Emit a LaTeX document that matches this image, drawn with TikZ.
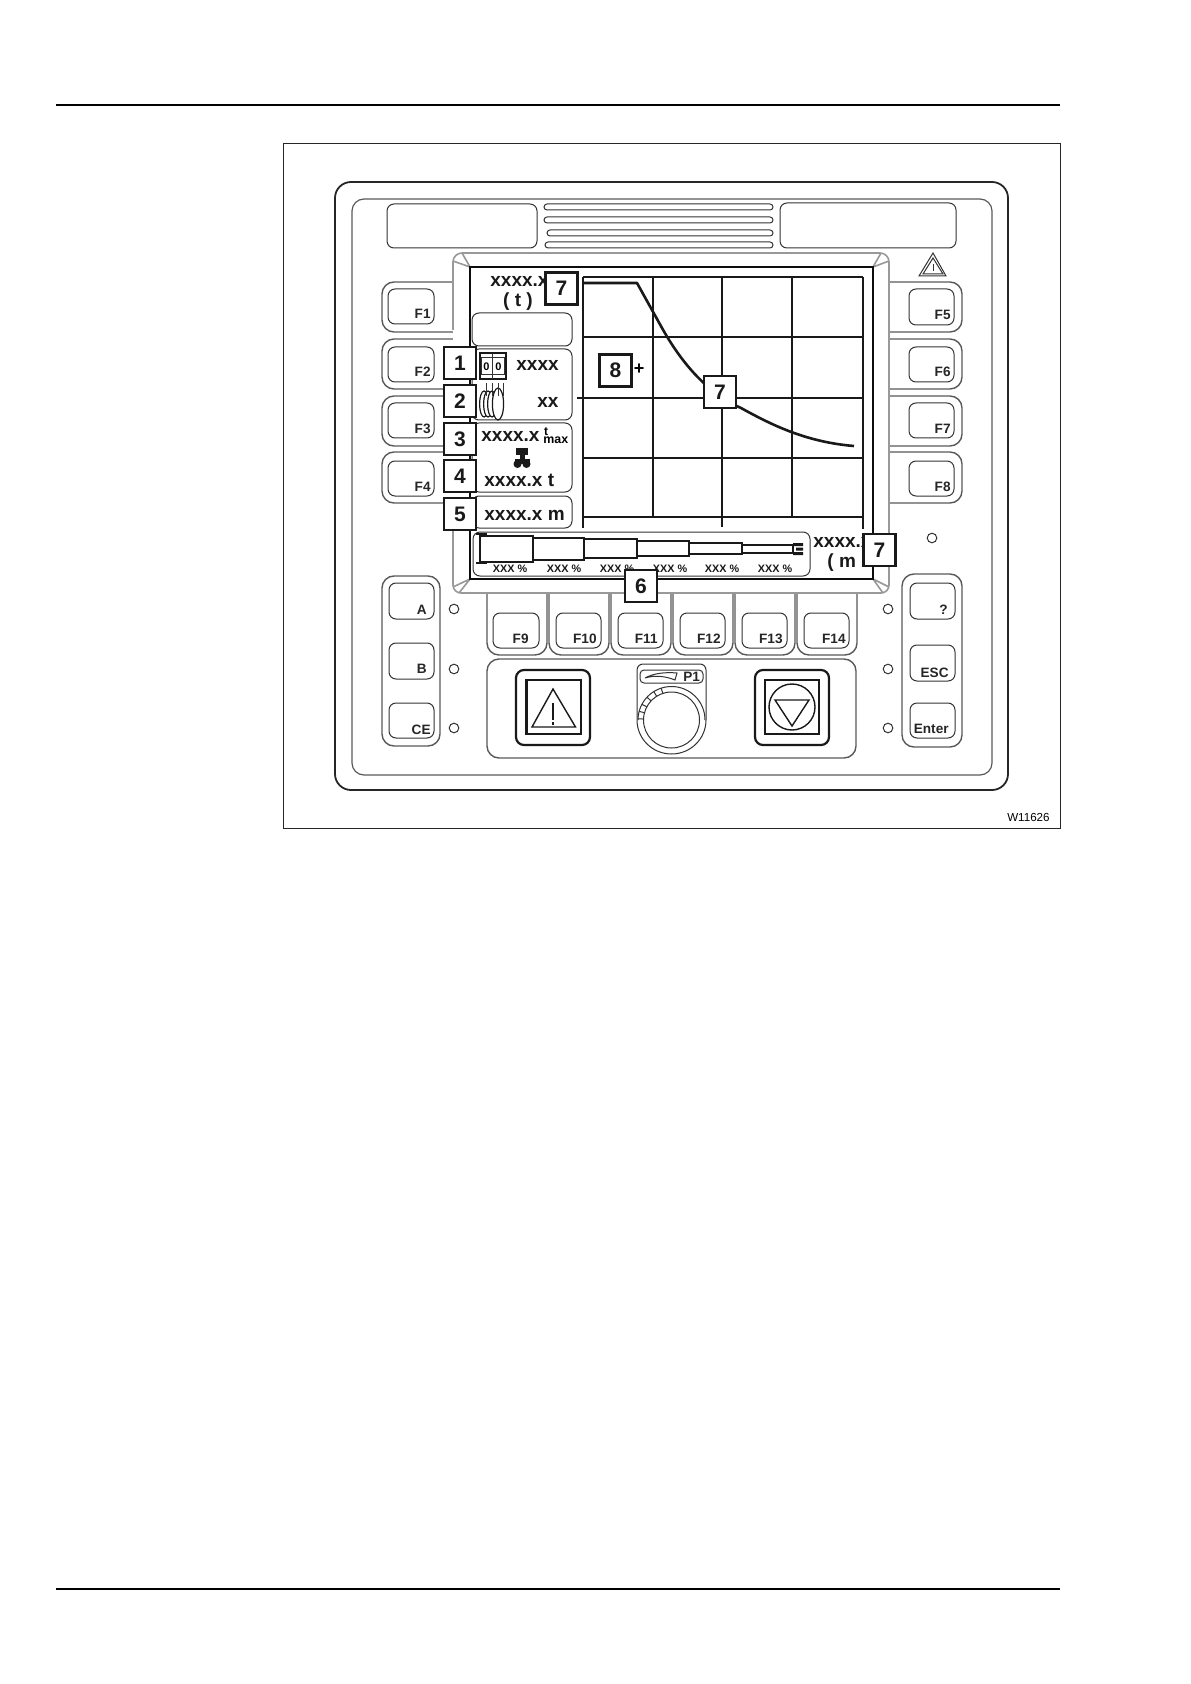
\documentclass[tikz,border=0pt]{standalone}
\usepackage{fontspec}
\setmainfont{Liberation Sans}
\begin{document}
\begin{tikzpicture}[x=0.5pt,y=-0.5pt,
  thin line/.style={draw=black!80,line width=0.5pt},
  rnd/.style={thin line,rounded corners=3.5pt},
  keybtn/.style={thin line,fill=white,rounded corners=3.5pt},
  keygroup/.style={draw=black!65,line width=0.7pt,fill=white,rounded corners=6pt},
  slot/.style={thin line,rounded corners=1.5pt},
  bezel/.style={draw=black!40,line width=0.8pt},
  gridline/.style={draw=black!90,line width=0.9pt},
  heavy/.style={draw=black!90,line width=1.2pt},
  led/.style={thin line,fill=white},
  keylab/.style={font=\bfseries\fontsize{6.8}{8}\selectfont,inner sep=0pt,text=black!85},
  disp/.style={font=\bfseries\fontsize{9.5}{11}\selectfont,inner sep=0pt,text=black!90,anchor=base west},
  pct/.style={font=\bfseries\fontsize{5.4}{6}\selectfont,inner sep=0pt,text=black!90,anchor=base},
  numbox/.style={draw=black!90,line width=1.2pt,fill=white,minimum size=16pt,inner sep=0pt,font=\bfseries\fontsize{10.5}{12}\selectfont,text=black!90,outer sep=0pt},
]
\useasboundingbox (0,0) rectangle (1190,1684);
% page rules and frame
\draw[line width=0.6pt] (56,105) -- (1060,105);
\draw[line width=0.6pt] (56,1589) -- (1060,1589);
\draw[line width=0.45pt,draw=black!85] (283,143) rectangle (1060,828);
\node[anchor=base east,inner sep=0pt,font=\fontsize{5.8}{7}\selectfont] (code) at (1050,821) {W11626};
% housing
\draw[draw=black!85,line width=0.9pt,rounded corners=8pt] (335,182) rectangle (1008,790);
\draw[draw=black!65,line width=0.6pt,rounded corners=6pt] (352,199) rectangle (992,775);
% windows, slots
\draw[rnd] (387,204) rectangle (537,248);
\draw[rnd] (780,203) rectangle (956,248);
\draw[slot] (544,204) rectangle (773,210);
\draw[slot] (544,217) rectangle (773,223);
\draw[slot] (547,230) rectangle (773,236);
\draw[slot] (545,242) rectangle (773,248);
% warning triangle top right
\draw[thin line,line join=miter] (933,253) -- (919,276) -- (946,276) -- cycle;
\draw[thin line,line join=miter] (933,258) -- (923,274) -- (943,274) -- cycle;
\draw[thin line] (933,264) -- (933,271);
% F1-F8 key groups
\foreach \t/\b in {282/332,339/389,396/446,452/503}{
  \draw[keygroup] (470,\t) -- (382,\t) -- (382,\b) -- (470,\b);
  \draw[keygroup] (870,\t) -- (962,\t) -- (962,\b) -- (870,\b);
}
\foreach \t/\b/\n/\by in {289/324/F1/319,347/382/F2/377,403/438/F3/434,461/496/F4/491}{
  \draw[keybtn] (388,\t) rectangle (434,\b);
  \node[keylab,anchor=base east] at (431,\by) {\n};
}
\foreach \t/\b/\n/\by in {289/325/F5/320,347/382/F6/377,403/438/F7/434,461/496/F8/491}{
  \draw[keybtn] (909,\t) rectangle (954,\b);
  \node[keylab,anchor=base east] at (951,\by) {\n};
}
% F9-F14
\foreach \l/\r in {487/547,549/609,611/671,673/733,735/795,797/857}{
  \draw[keygroup] (\l,585) -- (\l,655) -- (\r,655) -- (\r,585);
}
\foreach \l/\r/\tr/\n in {493/539/529/F9,556/601/597/F10,618/663/658/F11,680/725/721/F12,742/787/783/F13,804/849/846/F14}{
  \draw[keybtn] (\l,613) rectangle (\r,648);
  \node[keylab,anchor=base east] at (\tr,643) {\n};
}
% left, right key groups
\draw[keygroup] (382,576) rectangle (440,746);
\draw[keygroup] (902,574) rectangle (962,747);
\foreach \t/\b/\n/\tr/\by in {583/619/A/427/614,643/679/B/427/673,703/738/CE/431/734}{
  \draw[keybtn] (389,\t) rectangle (434,\b);
  \node[keylab,anchor=base east] at (\tr,\by) {\n};
}
\foreach \t/\b/\n/\tr/\by in {583/619/?/948/614,645/681/ESC/949/677,703/738/Enter/949/733}{
  \draw[keybtn] (910,\t) rectangle (955,\b);
  \node[keylab,anchor=base east] at (\tr,\by) {\n};
}
\foreach \x/\y in {454/609,454/669,454/728,888/609,888/669,888/728,932/538}{
  \draw[led] (\x,\y) circle (2.4pt);
}
% lower control panel
\draw[keygroup] (487,659) rectangle (856,758);
\draw[draw=black!90,line width=1.1pt,rounded corners=4pt] (516,670) rectangle (590,745);
\draw[draw=black!90,line width=1.1pt] (526.5,680) rectangle (581,734);
\draw[draw=black!90,line width=0.7pt,line join=miter] (553,689) -- (532,727) -- (575.5,727) -- cycle;
\draw[draw=black!90,line width=0.9pt] (553,703) -- (553,720);
\fill[black!90] (551.8,722) rectangle (554.2,725);
\draw[draw=black!90,line width=1.1pt,rounded corners=4pt] (755,670) rectangle (829,745);
\draw[draw=black!90,line width=1.1pt] (765,680) rectangle (819,734);
\draw[draw=black!90,line width=0.7pt] (792,707) circle (11.5pt);
\draw[draw=black!90,line width=0.7pt,line join=miter] (775,700) -- (809,700) -- (792,726) -- cycle;
% knob
\draw[thin line] (637,720) -- (637,670) arc[start angle=180,end angle=90,radius=3pt] -- (700,664) arc[start angle=90,end angle=0,radius=3pt] -- (706,720) arc[start angle=0,end angle=-180,x radius=17.25pt,y radius=17pt];
\draw[thin line,rounded corners=2pt] (640,670) rectangle (703,683);
\draw[thin line] (645,678) .. controls (654,673) and (666,672) .. (677,673) -- (675,680) .. controls (665,676) and (655,675) .. (645,678);
\node[keylab,anchor=base west] (pone) at (683,681) {P1};
\draw[thin line] (671.5,720) circle (14pt);
\draw[thin line] (638,720) arc[start angle=180,end angle=0,radius=16.75pt];
\foreach \a in {108,122,137,152,165,178}{
  \draw[thin line] (671.5,720) ++(\a:14pt) -- ++(\a:2.7pt);
}
% bezel
\path[fill=white] (453,260) -- (462,253) -- (882,253) -- (889,260) -- (889,586) -- (882,593) -- (460,593) -- (453,586) -- cycle;
\draw[bezel] (453,330) -- (453,262) .. controls (453,257) and (457,253) .. (462,253) -- (880,253) .. controls (885,253) and (889,257) .. (889,262) -- (889,585) .. controls (889,590) and (885,593) .. (881,593) -- (461,593) .. controls (457,593) and (453,590) .. (453,585) -- (453,530);
\draw[bezel] (453,261) -- (470,267) -- (462,253);
\draw[bezel] (889,261) -- (873,267) -- (881,253);
\draw[bezel] (453,587) -- (470,579) -- (459,593);
\draw[bezel] (889,587) -- (873,579) -- (883,593);
\draw[draw=black!95,line width=1.1pt,fill=white] (470,267) rectangle (873,579);
% display grid
\draw[heavy] (583,277) -- (863,277);
\draw[heavy] (583,277) -- (583,528);
\draw[heavy] (863,277) -- (863,529);
\draw[heavy] (583,517) -- (863,517);
\foreach \x in {653,792}{\draw[gridline] (\x,277) -- (\x,517);}
\draw[gridline] (722,277) -- (722,527);
\draw[draw=black!90,line width=0.6pt] (583,337) -- (863,337);
\draw[gridline] (577,398) -- (863,398);
\draw[gridline] (583,458) -- (863,458);
% load curve
\draw[draw=black!90,line width=1.3pt,line join=round] (583,283) -- (637,283) -- (662,328) .. controls (680,360) and (705,392) .. (741,408) .. controls (770,424) and (805,442) .. (854,446);
% display panels
\draw[rnd,fill=white] (472,313) rectangle (572,346);
\draw[rnd,fill=white] (472,349) rectangle (572,420);
\draw[rnd,fill=white] (472,423) rectangle (572,492);
\draw[rnd,fill=white] (472,496) rectangle (572,528);
\node[disp] (tx) at (490,287) {xxxx.x};
\node[disp,anchor=base] (tu) at (518,307) {( t )};
\node[disp] (cnt) at (516,371) {xxxx};
\node[disp] (fall) at (537,408) {xx};
\node[disp] (tm) at (481,442) {xxxx.x};
\node[font=\bfseries\fontsize{6}{7}\selectfont,inner sep=0pt,anchor=base] (tt) at (546,436) {t};
\node[font=\bfseries\fontsize{6.2}{7}\selectfont,inner sep=0pt,anchor=base west] (tmx) at (543,444) {max};
\node[disp] (ta) at (484,486) {xxxx.x t};
\node[disp] (rad) at (484,520) {xxxx.x m};
\node[disp] (mx) at (813,547) {xxxx.x};
\node[disp] (mu) at (827,567) {( m};
% counter icon
\draw[draw=black!90,line width=0.8pt] (480,353) rectangle (506,379);
\draw[thin line] (481,358) rectangle (504,375);
\draw[thin line] (492.5,354) -- (492.5,379);
\node[font=\bfseries\fontsize{5.5}{6}\selectfont,inner sep=0pt] (da) at (486.5,367) {0};
\node[font=\bfseries\fontsize{5.5}{6}\selectfont,inner sep=0pt] (db) at (498.5,367) {0};
% hook icon
\foreach \x in {484,488,492}{
  \draw[draw=black!90,line width=0.6pt,fill=white] (\x,404) ellipse (2.2pt and 6.5pt);
}
\draw[draw=black!90,line width=0.6pt,fill=white] (498,404) ellipse (2.8pt and 8pt);
\foreach \x in {486,492,498,503}{\draw[thin line] (\x,383) -- (\x,396);}
% crane carrier icon
\fill[black!90] (516,448) rectangle (528,455);
\fill[black!90] (519.5,455) rectangle (524.5,462);
\fill[black!90] (515,459) rectangle (530,464);
\fill[black!90] (517.5,464) circle (2pt) (526.5,464) circle (2pt);
% telescope panel
\draw[rnd,fill=white] (473,532) rectangle (810,576);
\draw[draw=black!90,line width=0.9pt,fill=white] (480,536) rectangle (533,562);
\draw[draw=black!90,line width=0.9pt,fill=white] (533,538) rectangle (584,560);
\draw[draw=black!90,line width=0.9pt,fill=white] (584,539) rectangle (637,558);
\draw[draw=black!90,line width=0.9pt,fill=white] (637,541) rectangle (689,556);
\draw[draw=black!90,line width=0.9pt,fill=white] (689,543) rectangle (742,554);
\draw[draw=black!90,line width=0.9pt,fill=white] (742,545) rectangle (793,553);
\draw[draw=black!90,line width=0.9pt] (476,534) -- (487,534);
\draw[draw=black!90,line width=0.9pt] (476,563) -- (487,563);
\fill[black!90] (793,543) rectangle (803,546) (796,547.5) rectangle (803,550.5) (793,552) rectangle (803,555);
\foreach \x in {510,564,617,670,722,775}{\node[pct] at (\x,572) {XXX \%};}
% number boxes
\node[numbox] (n1) at (460,363) {1};
\node[numbox] (n2) at (460,401) {2};
\node[numbox] (n3) at (460,439) {3};
\node[numbox] (n4) at (460,476) {4};
\node[numbox] (n5) at (460,514) {5};
\node[numbox] (n6) at (641,586) {6};
\node[numbox] (n7a) at (561.5,288.5) {7};
\node[numbox] (n7b) at (720,392) {7};
\node[numbox] (n7c) at (879.5,550) {7};
\node[numbox] (n8) at (615.5,370.5) {8};
\node[font=\bfseries\fontsize{9}{10}\selectfont,inner sep=0pt] (plus) at (639,369) {+};
\end{tikzpicture}
\end{document}
